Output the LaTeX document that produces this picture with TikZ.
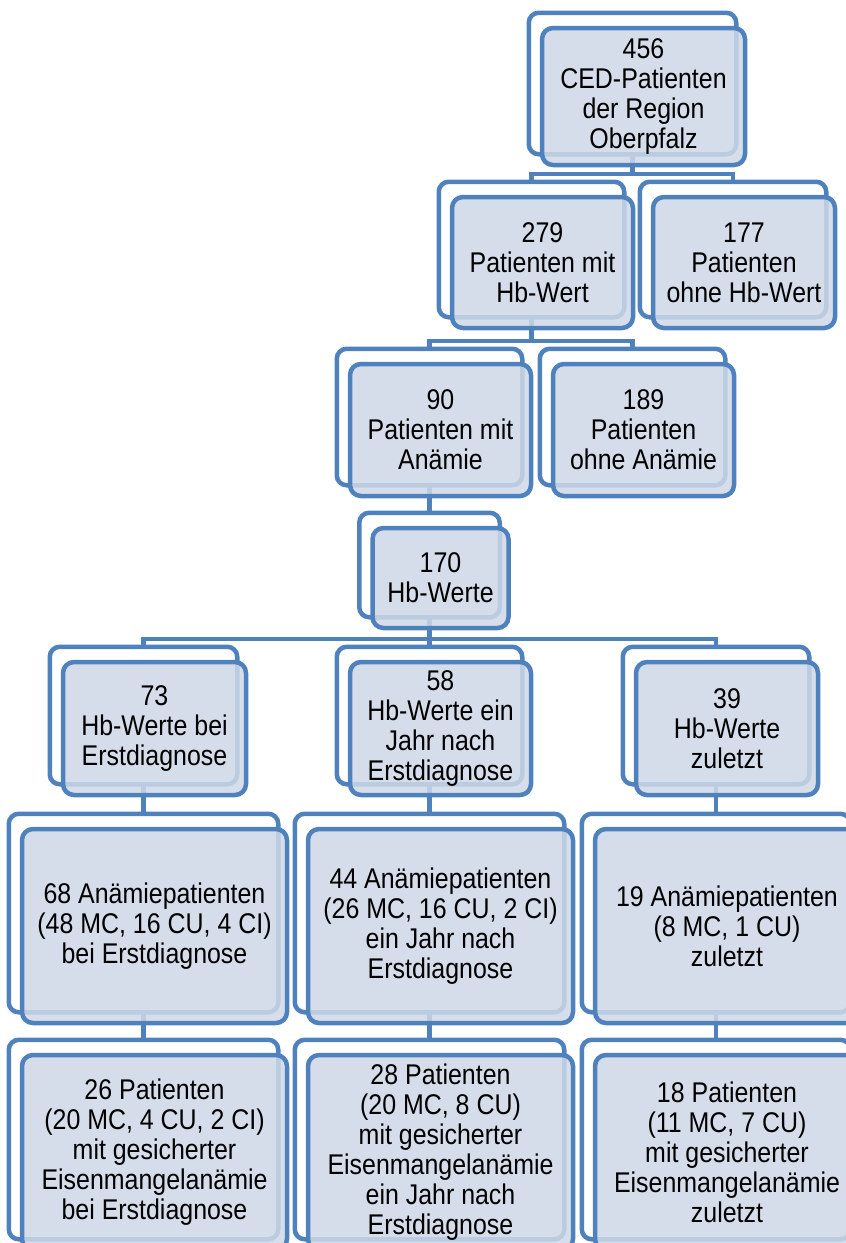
\documentclass[tikz,border=0pt]{standalone}
\usepackage{fontspec}
\setmainfont{Liberation Sans}[FakeStretch=0.875]
\usetikzlibrary{calc}
\definecolor{bordblue}{RGB}{79,129,189}
\definecolor{frontfill}{RGB}{207,216,231}
\tikzset{
  backbox/.style={draw=bordblue, line width=4.5pt, fill=white, rounded corners=10pt, inner sep=0pt},
  frontbox/.style={draw=bordblue, line width=4.5pt, fill=frontfill, fill opacity=0.85, draw opacity=1, text opacity=1,
    rounded corners=11pt, inner sep=0pt, align=center, font=\fontsize{28.5}{30}\selectfont},
  conn/.style={draw=bordblue, line width=4.5pt},
}
\begin{document}
\begin{tikzpicture}[x=1pt,y=-1pt]
\useasboundingbox (0,0) rectangle (846,1243);
\clip (0,0) rectangle (846,1243);
% junction levels
\coordinate (j1) at (0,174);
\coordinate (j2) at (0,341);
\coordinate (j3) at (0,639);
% back boxes (positions only, drawn later)
\path
  (632.5,83.5)  node[backbox, minimum width=203pt, minimum height=137pt, draw=none, fill=none] (broot) {}
  (531.5,249.5) node[backbox, minimum width=181pt, minimum height=131pt, draw=none, fill=none] (b279) {}
  (733,249.5)   node[backbox, minimum width=182pt, minimum height=131pt, draw=none, fill=none] (b177) {}
  (429.5,417)   node[backbox, minimum width=181pt, minimum height=132pt, draw=none, fill=none] (b90) {}
  (632.5,417)   node[backbox, minimum width=181pt, minimum height=132pt, draw=none, fill=none] (b189) {}
  (429.5,565)   node[backbox, minimum width=136pt, minimum height=100pt, draw=none, fill=none] (b170) {}
  (143.5,715.5) node[backbox, minimum width=183pt, minimum height=133pt, draw=none, fill=none] (b73) {}
  (429.5,715.5) node[backbox, minimum width=181pt, minimum height=133pt, draw=none, fill=none] (b58) {}
  (716,715.5)   node[backbox, minimum width=182pt, minimum height=133pt, draw=none, fill=none] (b39) {}
  (143.5,913)   node[backbox, minimum width=265pt, minimum height=194pt, draw=none, fill=none] (b68) {}
  (429.5,913)   node[backbox, minimum width=265pt, minimum height=194pt, draw=none, fill=none] (b44) {}
  (716,913)     node[backbox, minimum width=264pt, minimum height=194pt, draw=none, fill=none] (b19) {}
  (143.5,1139.5) node[backbox, minimum width=265pt, minimum height=195pt, draw=none, fill=none] (b26) {}
  (429.5,1139.5) node[backbox, minimum width=265pt, minimum height=195pt, draw=none, fill=none] (b28) {}
  (716,1139.5)   node[backbox, minimum width=264pt, minimum height=195pt, draw=none, fill=none] (b18) {};
% connectors
\draw[conn] (broot.south) -- (broot.south |- j1);
\draw[conn] (b279.north) |- (j1 -| b177.north) -- (b177.north);
\draw[conn] (b279.south) -- (b279.south |- j2);
\draw[conn] (b90.north) |- (j2 -| b189.north) -- (b189.north);
\draw[conn] (b90.south) -- (b170.north);
\draw[conn] (b170.south) -- (b170.south |- j3);
\draw[conn] (b73.north) |- (j3 -| b39.north) -- (b39.north);
\draw[conn] (b58.north) -- (b58.north |- j3);
\draw[conn] (b73.south) -- (b68.north);
\draw[conn] (b58.south) -- (b44.north);
\draw[conn] (b39.south) -- (b19.north);
\draw[conn] (b68.south) -- (b26.north);
\draw[conn] (b44.south) -- (b28.north);
\draw[conn] (b19.south) -- (b18.north);
% node pairs
\foreach \n in {root,279,177,90,189,170,73,58,39,68,44,19,26,28,18}{
  \draw[backbox] (b\n.south west) rectangle (b\n.north east);
}
\node[frontbox, minimum width=203pt, minimum height=137pt] (root) at (643.5,96.5) {456\\CED-Patienten\\der Region\\Oberpfalz};
\node[frontbox, minimum width=181pt, minimum height=131pt] (n279) at (542.5,262.5) {279\\Patienten mit\\Hb-Wert};
\node[frontbox, minimum width=182pt, minimum height=131pt] (n177) at (744,262.5) {177\\Patienten\\ohne Hb-Wert};
\node[frontbox, minimum width=181pt, minimum height=132pt] (n90) at (440.5,430) {90\\Patienten mit\\Anämie};
\node[frontbox, minimum width=181pt, minimum height=132pt] (n189) at (643.5,430) {189\\Patienten\\ohne Anämie};
\node[frontbox, minimum width=136pt, minimum height=100pt] (n170) at (440.5,578) {170\\Hb-Werte};
\node[frontbox, minimum width=183pt, minimum height=133pt] (n73) at (154.5,728.5) {73\\Hb-Werte bei\\Erstdiagnose};
\node[frontbox, minimum width=181pt, minimum height=133pt] (n58) at (440.5,728.5) {58\\Hb-Werte ein\\Jahr nach\\Erstdiagnose};
\node[frontbox, minimum width=182pt, minimum height=133pt] (n39) at (727,728.5) {39\\Hb-Werte\\zuletzt};
\node[frontbox, minimum width=265pt, minimum height=194pt] (n68) at (154.5,926) {68 Anämiepatienten\\(48 MC, 16 CU, 4 CI)\\bei Erstdiagnose};
\node[frontbox, minimum width=265pt, minimum height=194pt] (n44) at (440.5,926) {44 Anämiepatienten\\(26 MC, 16 CU, 2 CI)\\ein Jahr nach\\Erstdiagnose};
\node[frontbox, minimum width=264pt, minimum height=194pt] (n19) at (727,926) {19 Anämiepatienten\\(8 MC, 1 CU)\\zuletzt};
\node[frontbox, minimum width=265pt, minimum height=195pt] (n26) at (154.5,1152.5) {26 Patienten\\(20 MC, 4 CU, 2 CI)\\mit gesicherter\\Eisenmangelanämie\\bei Erstdiagnose};
\node[frontbox, minimum width=265pt, minimum height=195pt] (n28) at (440.5,1152.5) {28 Patienten\\(20 MC, 8 CU)\\mit gesicherter\\Eisenmangelanämie\\ein Jahr nach\\Erstdiagnose};
\node[frontbox, minimum width=264pt, minimum height=195pt] (n18) at (727,1152.5) {18 Patienten\\(11 MC, 7 CU)\\mit gesicherter\\Eisenmangelanämie\\zuletzt};
\end{tikzpicture}
\end{document}
